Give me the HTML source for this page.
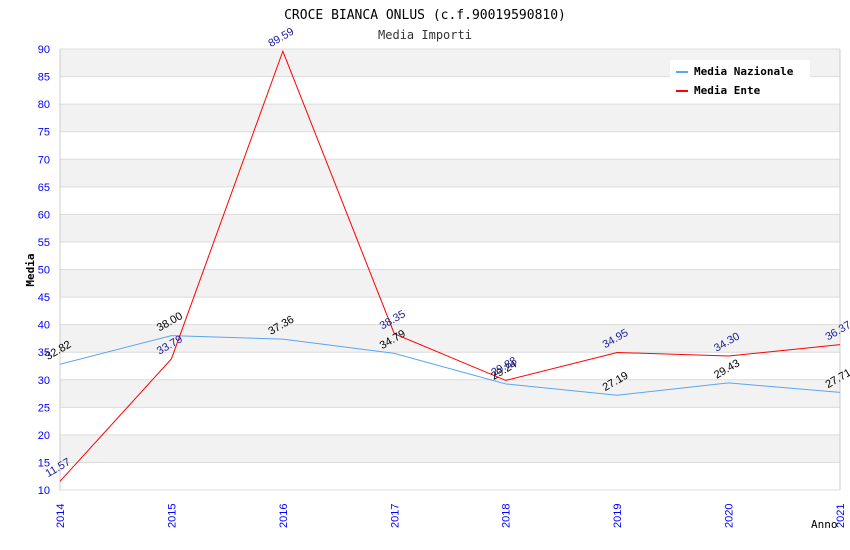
<!DOCTYPE html>
<html><head><meta charset="utf-8"><style>
body{margin:0;background:#fff}
svg{display:block;font-family:"DejaVu Sans Mono","Liberation Mono",monospace}
</style></head><body>
<svg id="chart" width="850" height="550">
<text x="425" y="19" text-anchor="middle" font-size="13" fill="#000">CROCE BIANCA ONLUS (c.f.90019590810)</text>
<text x="425" y="39" text-anchor="middle" font-size="12" fill="#333">Media Importi</text>
<g id="grid"></g>
<g id="axes"></g>
<g id="series"></g>
<g id="labels"></g>
<text x="34" y="270" transform="rotate(-90 34 270)" text-anchor="middle" font-size="11" font-weight="bold">Media</text>
<text x="811" y="528" font-size="11">Anno</text>
<g>
<rect x="670" y="60" width="140" height="40" fill="#fff"/>
<line x1="676" y1="72" x2="688" y2="72" stroke="#5aa5f0" stroke-width="2"/>
<text x="694" y="75" font-size="11" font-weight="bold">Media Nazionale</text>
<line x1="676" y1="91" x2="688" y2="91" stroke="#f00" stroke-width="2"/>
<text x="694" y="94" font-size="11" font-weight="bold">Media Ente</text>
</g>
</svg>
<script>
const years=["2014","2015","2016","2017","2018","2019","2020","2021"];
const nazionale=[32.82,38.00,37.36,34.79,29.24,27.19,29.43,27.71];
const ente=[11.57,33.79,89.59,38.35,29.88,34.95,34.30,36.37];
const yTicks=[10,15,20,25,30,35,40,45,50,55,60,65,70,75,80,85,90];
const NS="http://www.w3.org/2000/svg";
const X0=60,X1=840,Y0=490,Y1=49,YMIN=10,YMAX=90;
const xs=i=>X0+i*(X1-X0)/(years.length-1);
const ys=v=>Y0-(v-YMIN)/(YMAX-YMIN)*(Y0-Y1);
function mk(t,a,p){const e=document.createElementNS(NS,t);for(const k in a)e.setAttribute(k,a[k]);p.appendChild(e);return e;}
const grid=document.getElementById('grid'),axes=document.getElementById('axes'),ser=document.getElementById('series'),lab=document.getElementById('labels');
for(let i=0;i<yTicks.length-1;i++){
 if((yTicks.length-2-i)%2===0){const r=mk('rect',{x:X0,y:ys(yTicks[i+1]),width:X1-X0,height:ys(yTicks[i])-ys(yTicks[i+1]),fill:'#f2f2f2'},grid);
 
 }
}
yTicks.forEach(v=>{
 const l=mk('line',{x1:X0,x2:X1,y1:ys(v),y2:ys(v),stroke:'#dcdcdc'},grid);
 
 
 const t=mk('text',{x:50,y:ys(v)+4,'text-anchor':'end','font-size':11,fill:'#00f','font-family':'Liberation Sans, sans-serif'},axes);
 t.textContent=v;
 
 
});
mk('line',{x1:X0,x2:X0,y1:Y1,y2:Y0,stroke:'#ccc'},axes);
mk('line',{x1:X1,x2:X1,y1:Y1,y2:Y0,stroke:'#ccc'},axes);
years.forEach((y,i)=>{
 const t=mk('text',{x:xs(i)+4,y:528,transform:`rotate(-90 ${xs(i)+4} 528)`,'font-size':11,fill:'#00f','font-family':'Liberation Sans, sans-serif'},axes);
 t.textContent=y;
 
 
});
function series(data,color,lc,name){
 const p=mk('polyline',{points:data.map((v,i)=>xs(i)+','+ys(v)).join(' '),fill:'none',stroke:color,'stroke-width':1},ser);
 
 
 data.forEach((v,i)=>{
  const x=xs(i)-12,y=ys(v)-4;
  const t=mk('text',{x:x,y:y,transform:`rotate(-30 ${x} ${y})`,'font-size':11,fill:lc,'font-family':'Liberation Sans, sans-serif'},lab);
  t.textContent=v.toFixed(2);
  
  
 });
}
series(nazionale,'#5aa5f0','#000','line-nazionale');
series(ente,'#f00','#1a1aa0','line-ente');
</script>
</body></html>
